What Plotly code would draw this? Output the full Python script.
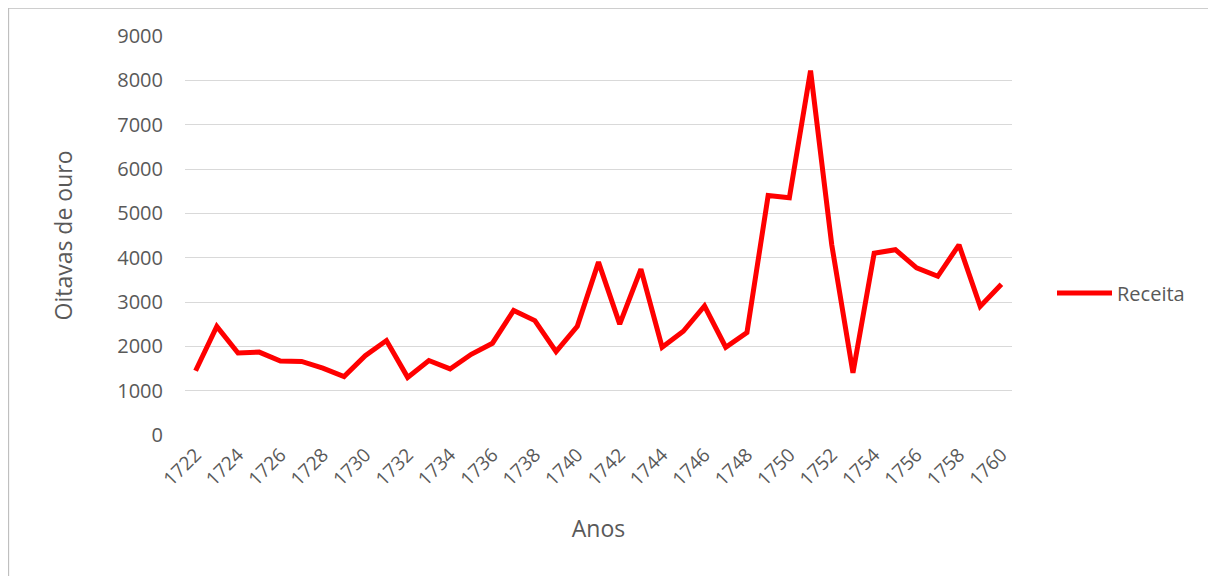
import plotly.graph_objects as go

# ---------- data ----------
anos = list(range(1722, 1761))
receita = [
    1450, 2450, 1850, 1870, 1670, 1660, 1510, 1320, 1790, 2130,
    1300, 1680, 1490, 1820, 2070, 2810, 2580, 1880, 2450, 3900,
    2500, 3740, 1980, 2340, 2910, 1980, 2310, 5400, 5350, 8220,
    4290, 1400, 4100, 4180, 3770, 3580, 4290, 2900, 3400,
]
tick_anos = anos[::2]
y_ticks = list(range(0, 9001, 1000))

FONT = "Open Sans"
GREY = "#595959"

# ---------- figure ----------
fig = go.Figure()
fig.add_trace(go.Scatter(
    x=anos, y=receita, mode="lines", name="Receita",
    line=dict(color="#ff0000", width=5),
))

# page has an 8px body margin, so figure coords = page coords - 8
W, H = 1216, 576
L, R, T, B = 177, 212, 28, 149
pw = W - L - R
ph = H - T - B

def px(x):  # figure pixel -> paper x
    return (x - L) / pw

def py(y):  # figure pixel -> paper y
    return 1 - (y - T) / ph

fig.update_layout(
    width=W, height=H,
    margin=dict(l=L, r=R, t=T, b=B),
    paper_bgcolor="white", plot_bgcolor="white",
    font=dict(family=FONT, color=GREY, size=20),
    showlegend=True,
    legend=dict(x=px(1044), y=py(285), xanchor="left", yanchor="middle",
                font=dict(size=20, color=GREY), itemwidth=55,
                bgcolor="rgba(0,0,0,0)"),
    xaxis=dict(
        range=[1721.5, 1760.5], tickvals=tick_anos,
        ticktext=[str(a) for a in tick_anos], tickangle=-45,
        showgrid=False, zeroline=False, showline=False, ticks="",
        tickfont=dict(size=19, color=GREY), ticklabelstandoff=4,
        title=dict(text="Anos", font=dict(size=23, color=GREY), standoff=30),
    ),
    yaxis=dict(
        range=[0, 9000], tickvals=y_ticks,
        showgrid=True, gridcolor="#d9d9d9", gridwidth=1.3,
        zeroline=False, showline=False, ticks="",
        tickfont=dict(size=20, color=GREY), ticklabelstandoff=21,
        title=dict(text="Oitavas de ouro", font=dict(size=23, color=GREY),
                   standoff=38),
    ),
    shapes=[dict(type="rect", xref="paper", yref="paper",
                 x0=px(0.5), x1=px(1240), y0=py(600), y1=py(0),
                 line=dict(color="#bfbfbf", width=1.3), layer="below")],
)

fig.write_html("out.html")
